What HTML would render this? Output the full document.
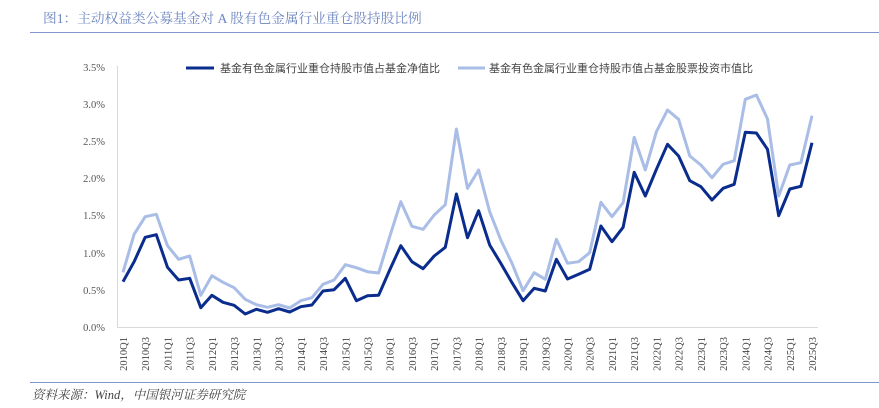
<!DOCTYPE html>
<html><head><meta charset="utf-8"><style>
body{margin:0;background:#fff;}
svg{display:block;}
</style></head><body>
<svg width="879" height="408" xmlns="http://www.w3.org/2000/svg">
<text x="43" y="23" font-family="Liberation Serif, Noto Serif CJK SC, serif" font-size="13.7" fill="#6d85c0">图1：主动权益类公募基金对 A 股有色金属行业重仓股持股比例</text>
<line x1="30" y1="32.5" x2="879" y2="32.5" stroke="#7f97cc" stroke-width="1"/>
<g font-family="Liberation Serif, serif" font-size="10.5" fill="#555" text-anchor="end">
<text x="105" y="71">3.5%</text><text x="105" y="108">3.0%</text><text x="105" y="145">2.5%</text><text x="105" y="182">2.0%</text><text x="105" y="219">1.5%</text><text x="105" y="257">1.0%</text><text x="105" y="294">0.5%</text><text x="105" y="331">0.0%</text>
</g>
<line x1="117.5" y1="66" x2="117.5" y2="327" stroke="#d9d9d9"/>
<line x1="117" y1="327.5" x2="818" y2="327.5" stroke="#d9d9d9"/>
<line x1="186" y1="68" x2="214" y2="68" stroke="#0a2c8c" stroke-width="3"/>
<text x="220" y="72" font-family="Liberation Sans, Noto Sans CJK SC, sans-serif" font-size="11" fill="#444">基金有色金属行业重仓持股市值占基金净值比</text>
<line x1="458" y1="68" x2="485" y2="68" stroke="#a9bde6" stroke-width="3"/>
<text x="489" y="72" font-family="Liberation Sans, Noto Sans CJK SC, sans-serif" font-size="11" fill="#444">基金有色金属行业重仓持股市值占基金股票投资市值比</text>
<polyline fill="none" stroke="#a9bde6" stroke-width="3" stroke-linejoin="round" points="123,272.3 134.1,234.3 145.2,216.7 156.3,214.3 167.5,245.7 178.6,259.3 189.7,256 200.8,295.3 211.9,275.7 223,282.3 234.1,287.7 245.2,299.3 256.4,304.7 267.5,307.3 278.6,304.7 289.7,308 300.8,300.7 311.9,297.7 323,284.3 334.1,280 345.3,264.7 356.4,267.7 367.5,271.7 378.6,273 389.7,236.7 400.8,201.7 411.9,226.3 423.1,229.3 434.2,215 445.3,204.7 456.4,129 467.5,188.3 478.6,170 489.7,211.7 500.8,240 512,263.3 523.1,290.7 534.2,272.7 545.3,279.3 556.4,239.3 567.5,263.3 578.6,261.7 589.7,252.7 600.9,202.3 612,216.7 623.1,202.7 634.2,137.3 645.3,170 656.4,131.7 667.5,110 678.6,119.3 689.8,156 700.9,165 712,177.7 723.1,164.3 734.2,160.7 745.3,99.3 756.4,95 767.5,119 778.7,196 789.8,165 800.9,162.7 812,115.7"/>
<polyline fill="none" stroke="#0a2c8c" stroke-width="3" stroke-linejoin="round" points="123,281.7 134.1,261.7 145.2,237.3 156.3,234.7 167.5,267.3 178.6,280 189.7,278.3 200.8,307.7 211.9,295.3 223,302.3 234.1,305.3 245.2,314 256.4,309.3 267.5,312.3 278.6,308.7 289.7,312 300.8,306.7 311.9,305 323,291 334.1,289.7 345.3,278.3 356.4,300.7 367.5,295.7 378.6,295.3 389.7,270 400.8,245.7 411.9,261.7 423.1,268.7 434.2,256 445.3,247.3 456.4,194 467.5,237.7 478.6,210.7 489.7,245 500.8,263.3 512,282.7 523.1,300.7 534.2,288.3 545.3,291 556.4,259.3 567.5,279 578.6,274.3 589.7,269.3 600.9,226 612,241.7 623.1,227.3 634.2,172.3 645.3,196 656.4,169.3 667.5,144.3 678.6,156 689.8,180.7 700.9,186.7 712,200 723.1,188.3 734.2,184.3 745.3,132.3 756.4,133 767.5,149.3 778.7,215.7 789.8,189 800.9,186.3 812,142.7"/>
<g font-family="Liberation Serif, serif" font-size="10.5" fill="#444" text-anchor="end">
<text transform="translate(127,337) rotate(-90)">2010Q1</text>
<text transform="translate(149.2,337) rotate(-90)">2010Q3</text>
<text transform="translate(171.5,337) rotate(-90)">2011Q1</text>
<text transform="translate(193.7,337) rotate(-90)">2011Q3</text>
<text transform="translate(215.9,337) rotate(-90)">2012Q1</text>
<text transform="translate(238.1,337) rotate(-90)">2012Q3</text>
<text transform="translate(260.4,337) rotate(-90)">2013Q1</text>
<text transform="translate(282.6,337) rotate(-90)">2013Q3</text>
<text transform="translate(304.8,337) rotate(-90)">2014Q1</text>
<text transform="translate(327,337) rotate(-90)">2014Q3</text>
<text transform="translate(349.3,337) rotate(-90)">2015Q1</text>
<text transform="translate(371.5,337) rotate(-90)">2015Q3</text>
<text transform="translate(393.7,337) rotate(-90)">2016Q1</text>
<text transform="translate(415.9,337) rotate(-90)">2016Q3</text>
<text transform="translate(438.2,337) rotate(-90)">2017Q1</text>
<text transform="translate(460.4,337) rotate(-90)">2017Q3</text>
<text transform="translate(482.6,337) rotate(-90)">2018Q1</text>
<text transform="translate(504.8,337) rotate(-90)">2018Q3</text>
<text transform="translate(527.1,337) rotate(-90)">2019Q1</text>
<text transform="translate(549.3,337) rotate(-90)">2019Q3</text>
<text transform="translate(571.5,337) rotate(-90)">2020Q1</text>
<text transform="translate(593.7,337) rotate(-90)">2020Q3</text>
<text transform="translate(616,337) rotate(-90)">2021Q1</text>
<text transform="translate(638.2,337) rotate(-90)">2021Q3</text>
<text transform="translate(660.4,337) rotate(-90)">2022Q1</text>
<text transform="translate(682.6,337) rotate(-90)">2022Q3</text>
<text transform="translate(704.9,337) rotate(-90)">2023Q1</text>
<text transform="translate(727.1,337) rotate(-90)">2023Q3</text>
<text transform="translate(749.3,337) rotate(-90)">2024Q1</text>
<text transform="translate(771.5,337) rotate(-90)">2024Q3</text>
<text transform="translate(793.8,337) rotate(-90)">2025Q1</text>
<text transform="translate(816,337) rotate(-90)">2025Q3</text>
</g>
<line x1="30" y1="382.5" x2="879" y2="382.5" stroke="#7f97cc" stroke-width="1"/>
<text x="32" y="399" font-family="Liberation Serif, Noto Serif CJK SC, serif" font-size="12.5" font-style="italic" fill="#444">资料来源：Wind，中国银河证券研究院</text>
</svg>
</body></html>
